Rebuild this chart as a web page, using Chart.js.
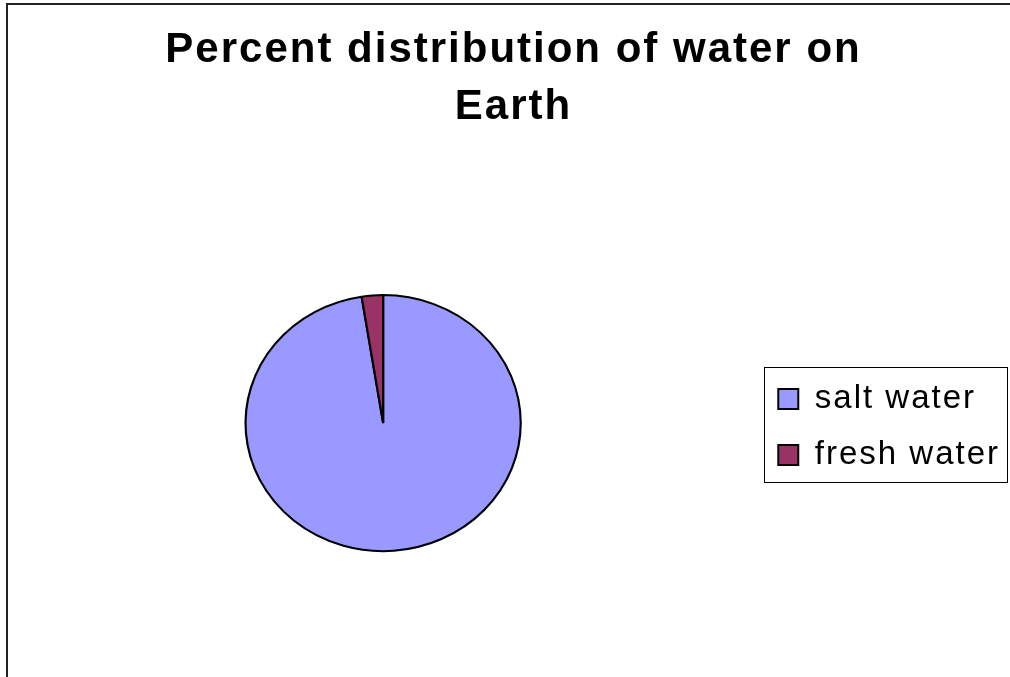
<!DOCTYPE html>
<html>
<head>
<meta charset="utf-8">
<script src="https://cdn.jsdelivr.net/npm/chart.js@4"></script>
<style>
  body { margin: 0; background: #fff; }
  canvas { display: block; }
</style>
</head>
<body>
<canvas id="myChart" width="1010" height="677"></canvas>
<script>
const labels = ['salt water', 'fresh water'];
const percents = [97.5, 2.5];
const colours = ['#9999FF', '#993366'];
const titleLines = ['Percent distribution of water on', 'Earth'];

const FONT = "'Liberation Sans', Arial, sans-serif";

// frame line top + left, like the original sheet border
const framePlugin = {
  id: 'frame',
  beforeLayout(chart) {
    chart.ctx.letterSpacing = '2px';
  },
  afterLayout(chart) {
    // small nudges to line up with the original
    chart.titleBlock.left += 3;
    chart.titleBlock.right += 3;
    chart.legend.top += 4;
    chart.legend.bottom += 4;
  },
  beforeDraw(chart) {
    const ctx = chart.ctx;
    ctx.letterSpacing = '2px';
    ctx.save();
    ctx.strokeStyle = '#222';
    ctx.lineWidth = 2;
    ctx.beginPath();
    ctx.moveTo(7, chart.height);
    ctx.lineTo(7, 4);
    ctx.lineTo(chart.width, 4);
    ctx.stroke();
    ctx.restore();
  }
};

// pie in the original is a bit wider than tall
const stretchPlugin = {
  id: 'stretch',
  beforeDatasetsDraw(chart) {
    const arc = chart.getDatasetMeta(0).data[0];
    const ctx = chart.ctx;
    ctx.save();
    ctx.translate(arc.x, arc.y);
    ctx.scale(1.075, 1);
    ctx.translate(-arc.x, -arc.y);
  },
  afterDatasetsDraw(chart) {
    chart.ctx.restore();
  }
};

// box round the legend
const legendBoxPlugin = {
  id: 'legendBox',
  afterDraw(chart) {
    const boxes = chart.legend.legendHitBoxes;
    if (!boxes || !boxes.length) return;
    const first = boxes[0], last = boxes[boxes.length - 1];
    const left = first.left - 14;
    const right = Math.max(...boxes.map(b => b.left + b.width)) + 7;
    const top = first.top - 16;
    const bottom = last.top + last.height + 10;
    const ctx = chart.ctx;
    ctx.save();
    ctx.strokeStyle = '#000';
    ctx.lineWidth = 1;
    ctx.strokeRect(Math.round(left) + 0.5, Math.round(top) + 0.5, Math.round(right - left), Math.round(bottom - top));
    ctx.restore();
  }
};

Chart.defaults.color = '#000';
Chart.defaults.font.family = FONT;

const ctx = document.querySelector('#myChart').getContext('2d');

const myChart = new Chart(ctx, {
  type: 'pie',
  data: {
    labels: labels,
    datasets: [{
      data: percents,
      backgroundColor: colours,
      borderColor: '#000',
      borderWidth: 2,
      radius: 128,
    }],
  },
  options: {
    responsive: false,
    animation: false,
    layout: {
      padding: { left: 11, right: 0, top: 0, bottom: 0 }
    },
    plugins: {
      tooltip: { enabled: false },
      title: {
        display: true,
        text: titleLines,
        color: '#000',
        font: { size: 42, weight: 'bold', family: FONT, lineHeight: 1.36 },
        padding: { top: 22, bottom: 33 },
      },
      legend: {
        position: 'right',
        fullSize: false,
        labels: {
          color: '#000',
          font: { size: 33, family: FONT },
          boxWidth: 20,
          boxHeight: 20,
          padding: 23,
        }
      }
    },
  },
  plugins: [framePlugin, stretchPlugin, legendBoxPlugin],
});
</script>
</body>
</html>
